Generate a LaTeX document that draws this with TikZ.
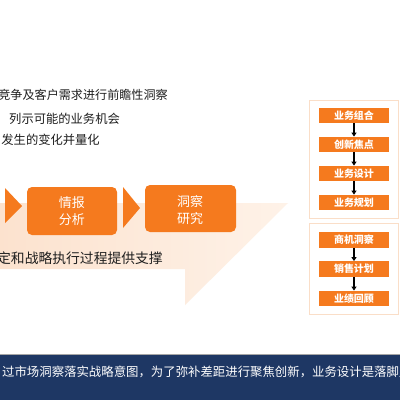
\documentclass[tikz,border=0pt]{standalone}
\usepackage{fontspec}
\setmainfont{Noto Sans CJK SC}
\usetikzlibrary{arrows.meta}
\definecolor{org}{RGB}{245,122,30}
\definecolor{peachL}{RGB}{252,226,206}
\definecolor{peachR}{RGB}{254,242,232}
\definecolor{navy}{RGB}{30,55,100}
\definecolor{panelb}{RGB}{250,222,200}
\definecolor{txt}{RGB}{30,30,30}
\tikzset{
  plain/.style={inner sep=0pt, text=txt},
  bigbox/.style={fill=org, rounded corners=5pt, draw=none},
  boxtxt/.style={inner sep=0pt, text=white, font=\fontsize{13}{17}\selectfont, align=center},
  chev/.style={fill=org, draw=none},
  panel/.style={draw=panelb, line width=0.8pt, fill=white},
  stepbox/.style={fill=org, minimum width=70pt, minimum height=15.5pt, inner sep=0pt, text=white, font=\fontsize{10}{10}\selectfont\bfseries},
  flow/.style={-{Triangle[length=4pt,width=5pt]}, line width=1.3pt, black}
}
\begin{document}
\begin{tikzpicture}[x=1pt,y=-1pt]
\useasboundingbox (0,0) rectangle (400,400);
\clip (0,0) rectangle (400,400);
\fill[white] (0,0) rectangle (400,400);
% big light arrow band
\shade[left color=peachL, right color=peachR] (-2,203) -- (288,203) -- (185,305) -- (185,269) -- (-2,269) -- cycle;
% top texts
\node[plain, anchor=east, font=\fontsize{12.1}{12}\selectfont] (t1) at (168,95) {竞争及客户需求进行前瞻性洞察};
\node[plain, anchor=west, font=\fontsize{12.3}{12}\selectfont] (t2) at (9,119) {列示可能的业务机会};
\node[plain, anchor=east, font=\fontsize{12.3}{12}\selectfont] (t3) at (100,140) {发生的变化并量化};
% chevrons and boxes
\fill[chev] (5,188) -- (22,206) -- (5,223) -- cycle;
\node[bigbox, minimum width=90pt, minimum height=48pt] (b1) at (72,211) {};
\node[boxtxt] (b1t) at (72,211.5) {情报\\分析};
\fill[chev] (123,187) -- (140,208) -- (123,228) -- cycle;
\node[bigbox, minimum width=91pt, minimum height=47pt] (b2) at (190.5,208.5) {};
\node[boxtxt] (b2t) at (190,210.5) {洞察\\研究};
\node[plain, anchor=east, font=\fontsize{13.8}{14}\selectfont] (t4) at (163,258) {定和战略执行过程提供支撑};
% right panels
\draw[panel] (309,100) rectangle (398.5,218);
\node[stepbox] (r1) at (354,115.5) {业务组合};
\node[stepbox] (r2) at (354,144.5) {创新焦点};
\node[stepbox] (r3) at (354,173.5) {业务设计};
\node[stepbox] (r4) at (354,202.5) {业务规划};
\draw[flow] (r1) -- (r2);
\draw[flow] (r2) -- (r3);
\draw[flow] (r3) -- (r4);
\draw[panel] (309,223) rectangle (398.5,314);
\node[stepbox] (s1) at (354,240) {商机洞察};
\node[stepbox] (s2) at (354,269) {销售计划};
\node[stepbox] (s3) at (354,298.5) {业绩回顾};
\draw[flow] (s1) -- (s2);
\draw[flow] (s2) -- (s3);
% bottom band
\fill[navy] (0,355) rectangle (400,400);
\draw[line width=0.8pt, black!35] (0,354.6) -- (400,354.6);
\node[inner sep=0pt, anchor=west, text=white, font=\fontsize{12.4}{12}\selectfont] (bt) at (2,372) {过市场洞察落实战略意图，为了弥补差距进行聚焦创新，业务设计是落脚点};
\end{tikzpicture}
\end{document}
